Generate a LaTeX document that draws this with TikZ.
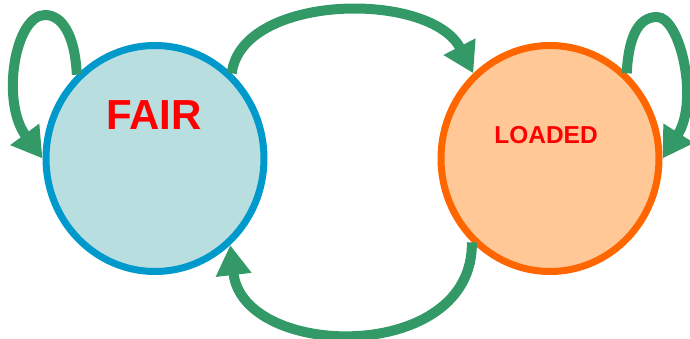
\documentclass[tikz,border=0pt]{standalone}
\usepackage{fontspec}
\setmainfont{Liberation Sans}
\usetikzlibrary{shapes.geometric,arrows.meta}
\definecolor{arrowgreen}{RGB}{51,153,102}
\definecolor{fairfill}{RGB}{185,222,224}
\definecolor{fairline}{RGB}{0,153,204}
\definecolor{loadfill}{RGB}{255,200,150}
\definecolor{loadline}{RGB}{255,102,0}
\definecolor{labelred}{RGB}{255,0,0}
\tikzset{
  state/.style={ellipse, line width=7pt, minimum width=218pt, minimum height=226pt, inner sep=0pt},
  trans/.style={draw=arrowgreen, line width=10pt, -{Triangle[length=30pt,width=34pt]}},
  statelabel/.style={text=labelred, font=\bfseries, inner sep=0pt, anchor=center}
}
\begin{document}
\begin{tikzpicture}[x=1pt,y=-1pt]
\useasboundingbox (0,0) rectangle (690,339);
\node[state, draw=fairline, fill=fairfill] (fair) at (155,158.5) {};
\node[state, draw=loadline, fill=loadfill] (loaded) at (550,158.5) {};
\node[statelabel, font=\fontsize{42}{42}\selectfont\bfseries] (fairtext) at (154,115) {FAIR};
\node[statelabel, font=\fontsize{24.5}{24.5}\selectfont\bfseries] (loadtext) at (546,135.5) {LOADED};
\coordinate (ltop) at (45,15);
\coordinate (rtop) at (657,17);
% self loop on FAIR
\draw[trans] (fair.133) .. controls +(-2,-40) and +(17,0) .. (ltop)
  .. controls +(-30,0) and +(-42,-57) .. (fair.180);
% self loop on LOADED
\draw[trans] (loaded.48) .. controls +(2,-40) and +(-17,0) .. (rtop)
  .. controls +(23,0) and +(37,-58) .. (loaded.0);
% FAIR -> LOADED
\draw[trans] (fair.48.8) .. controls +(10,-80) and +(-43,-83) .. (loaded.132);
% LOADED -> FAIR
\draw[trans] (loaded.227.3) .. controls +(2,122) and +(13,115) .. (fair.311.7);
\end{tikzpicture}
\end{document}
